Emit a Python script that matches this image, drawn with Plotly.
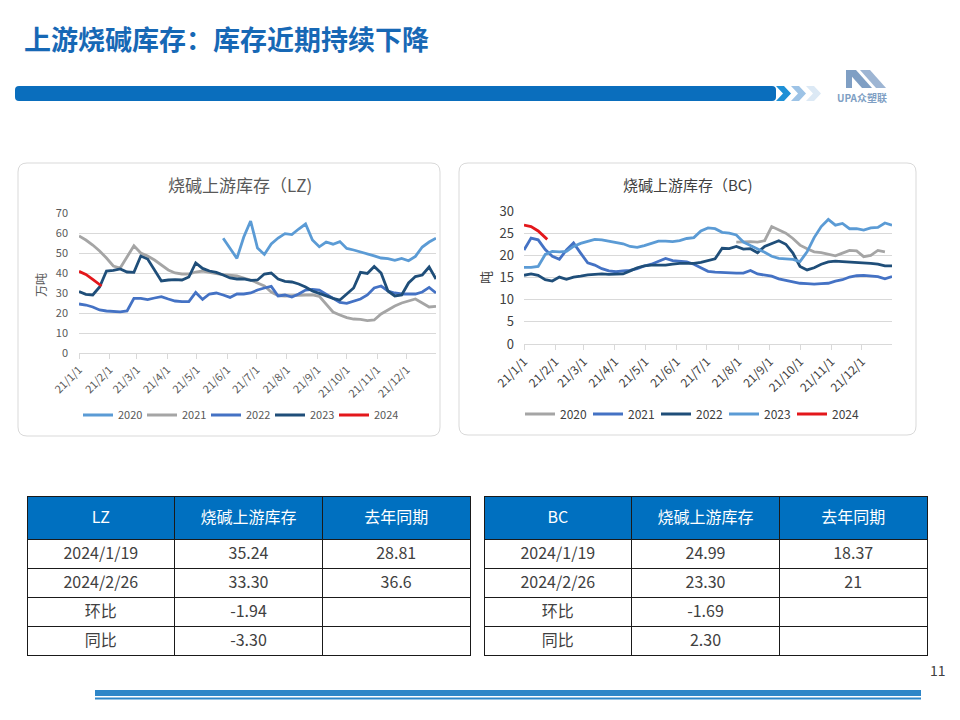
import plotly.graph_objects as go
import pandas as pd

W, H = 960, 720
def px(x):
    return x / W
def py(y):
    return 1 - y / H

FONT = "Noto Sans CJK SC, Noto Sans, sans-serif"

# ---------------- data ----------------
years = ["2020", "2021", "2022", "2023", "2024"]
weeks = pd.date_range("2021-01-01", periods=53, freq="7D")
week_2024 = pd.to_datetime(["2021-01-01", "2021-01-08", "2021-01-15", "2021-01-24"])
month_ticks = pd.date_range("2021-01-01", periods=12, freq="MS")
tick_labels = ["21/1/1", "21/2/1", "21/3/1", "21/4/1", "21/5/1", "21/6/1",
               "21/7/1", "21/8/1", "21/9/1", "21/10/1", "21/11/1", "21/12/1"]

lz_2020 = [None] * 21 + [57.4, 52, 47.3, 58, 66, 52.5, 49.3, 54.5, 57.5, 59.7, 59.2, 62,
                         64.5, 56.5, 53.1, 55.5, 54.4, 55.7, 52.3, 51.5, 50.6, 49.5, 48.6,
                         47.5, 47.2, 46.3, 47.3, 46.1, 48.3, 53, 55.5, 57.4]
lz_2021 = [58.5, 56.5, 54, 51, 47.5, 43.5, 42.5, 48, 53.6, 50, 48.5, 46.5, 44, 41.5, 40,
           39.5, 39.5, 40.5, 41, 40.2, 39.7, 39.2, 38.8, 38.5, 37.5, 36.5, 35, 33.5, 30.5,
           28.7, 28.5, 28.5, 28.8, 29, 29, 28.3, 24.5, 20.5, 19, 17.7, 17, 16.8, 16.2, 16.5,
           19.5, 21.5, 23.5, 25, 26, 27, 25, 23, 23.3]
lz_2022 = [24.5, 24, 23, 21.5, 21, 20.7, 20.6, 21, 27.3, 27.3, 26.7, 27.5, 28.2, 27, 26,
           25.7, 25.7, 30.3, 26.8, 29.5, 30, 29, 27.8, 29.5, 29.5, 30, 31.5, 32.5, 33.3,
           28.5, 29, 28, 29.5, 31.5, 31.8, 31.5, 29.5, 27.5, 25.3, 24.8, 26, 27, 29, 32.5,
           33.5, 31, 30, 29.5, 29.5, 29.5, 30.5, 32.8, 30]
lz_2023 = [30.7, 29.3, 29, 33, 41, 41.3, 42, 40.5, 40.3, 48.5, 47, 41.5, 36, 36.5, 36.7,
           36.5, 38, 45, 42.3, 41, 40.3, 39, 37.5, 37, 37, 36.3, 36.5, 39.5, 40, 37, 35.8,
           35.5, 34.5, 33, 31, 29.8, 28.5, 27.3, 26.5, 29.5, 32.5, 40.3, 39.8, 43.3, 40, 31,
           28.5, 29, 35, 38.2, 39, 43, 37]
lz_2024 = [40.8, 39.3, 36.8, 33.5]

bc_2020 = [None] * 30 + [23, 23.1, 23.1, 23, 23.3, 26.5, 25.7, 25, 23.8, 22.3, 21.5, 20.8,
                         20.6, 20.3, 19.9, 20.5, 21.1, 21, 19.7, 20, 21.1, 20.8]
bc_2021 = [21.2, 23.9, 23.5, 21.3, 19.8, 19.1, 21.2, 22.8, 20.5, 18.3, 17.8, 17, 16.5, 16.3,
           16.5, 16.6, 17, 17.6, 18, 18.6, 19.3, 18.8, 18.6, 18.5, 18, 17.2, 16.4, 16.2, 16.1,
           16, 16, 16, 16.6, 15.8, 15.5, 15.3, 14.7, 14.4, 14, 13.7, 13.6, 13.5, 13.6, 13.7,
           14.2, 14.5, 15.1, 15.4, 15.5, 15.4, 15.2, 14.7, 15.2]
bc_2022 = [15.5, 15.8, 15.5, 14.5, 14.2, 15.1, 14.6, 15.1, 15.3, 15.6, 15.7, 15.8, 15.7, 15.7,
           15.8, 16.5, 17.2, 17.6, 17.8, 17.8, 17.8, 18, 18.2, 18.2, 18.2, 18.4, 18.8, 19.2,
           21.6, 21.5, 22, 21.4, 21.5, 20.6, 22, 22.7, 23.3, 22.5, 20.5, 17.5, 16.7, 17.2, 18,
           18.5, 18.7, 18.6, 18.5, 18.5, 18.4, 18.2, 18, 17.6, 17.6]
bc_2023 = [17.3, 17.3, 17.5, 20.2, 20.9, 20.8, 20.9, 22, 22.7, 23.2, 23.6, 23.5, 23.2, 22.8,
           22.6, 22, 21.8, 22.2, 22.7, 23.2, 23.2, 23.1, 23.3, 23.8, 24, 25.5, 26.2, 26, 25.2,
           25, 24.6, 23, 22.2, 21.5, 20.7, 19.8, 19.3, 19.2, 19.1, 18.6, 20.8, 24, 26.5, 28.1,
           26.8, 27.2, 26, 26, 25.7, 26.2, 26.3, 27.3, 26.8]
bc_2024 = [26.8, 26.5, 25.5, 23.6]

lz_colors = ["#5B9BD5", "#A5A5A5", "#4472C4", "#1F4E79", "#E3171B"]
bc_colors = ["#A5A5A5", "#4472C4", "#1F4E79", "#5B9BD5", "#E3171B"]

table_header_lz = ["LZ", "烧碱上游库存", "去年同期"]
table_header_bc = ["BC", "烧碱上游库存", "去年同期"]
table_dates = ["2024/1/19", "2024/2/26", "环比", "同比"]
lz_stock = ["35.24", "33.30", "-1.94", "-3.30"]
lz_last_year = ["28.81", "36.6", "", ""]
bc_stock = ["24.99", "23.30", "-1.69", "2.30"]
bc_last_year = ["18.37", "21", "", ""]

# ---------------- figure ----------------
fig = go.Figure()

lz_series = [lz_2020, lz_2021, lz_2022, lz_2023, lz_2024]
bc_series = [bc_2020, bc_2021, bc_2022, bc_2023, bc_2024]

for yr, vals, col in zip(years, lz_series, lz_colors):
    xs = week_2024 if yr == "2024" else weeks[:len(vals)]
    fig.add_trace(go.Scatter(x=xs, y=vals, mode="lines", name=yr,
                             line=dict(color=col, width=2.8), xaxis="x", yaxis="y",
                             legend="legend", hoverinfo="skip"))
for yr, vals, col in zip(years, bc_series, bc_colors):
    xs = week_2024 if yr == "2024" else weeks[:len(vals)]
    fig.add_trace(go.Scatter(x=xs, y=vals, mode="lines", name=yr,
                             line=dict(color=col, width=2.8), xaxis="x2", yaxis="y2",
                             legend="legend2", hoverinfo="skip"))

cell_line = dict(color="#1a1a1a", width=1)
def header_label(s):
    # small leading line nudges the header text down to the vertical centre
    return "<br><span style='font-size:16px'>" + s + "</span>"

def add_table(x0, x1, header, c2, c3):
    fig.add_trace(go.Table(
        domain=dict(x=[px(x0), px(x1)], y=[py(662), py(496)]),
        columnwidth=[1, 1, 1],
        header=dict(values=[header_label(h) for h in header], fill_color="#0070C0",
                    line=cell_line, font=dict(family=FONT, size=9, color="white"),
                    align="center", height=43),
        cells=dict(values=[table_dates, c2, c3], fill_color="white", line=cell_line,
                   font=dict(family=FONT, size=16, color="#404040"),
                   align="center", height=29),
    ))

add_table(27, 471, table_header_lz, lz_stock, lz_last_year)
add_table(484, 927, table_header_bc, bc_stock, bc_last_year)

axis_common = dict(showgrid=False, showline=True, linecolor="#D9D9D9", linewidth=1,
                   ticks="outside", ticklen=5, tickcolor="#D9D9D9", tickangle=-45,
                   tickvals=month_ticks, ticktext=tick_labels, type="date",
                   range=["2021-01-01", "2021-12-31"], fixedrange=True, automargin=False)
yaxis_common = dict(showgrid=True, gridcolor="#D9D9D9", gridwidth=1, zeroline=False,
                    showline=False, ticks="", fixedrange=True, automargin=False)

fig.update_layout(
    width=W, height=H, margin=dict(l=0, r=0, t=0, b=0, pad=0, autoexpand=False),
    paper_bgcolor="white", plot_bgcolor="rgba(0,0,0,0)",
    font=dict(family=FONT, color="#595959"),
    xaxis=dict(domain=[px(79), px(436)], anchor="y",
               tickfont=dict(size=11, color="#595959"), **axis_common),
    yaxis=dict(domain=[py(353), py(213)], anchor="x", range=[0, 70], dtick=10,
               ticklabelstandoff=10,
               tickfont=dict(size=11, color="#595959"), **yaxis_common),
    xaxis2=dict(domain=[px(524), px(892)], anchor="y2",
                tickfont=dict(size=12, color="#404040"), **axis_common),
    yaxis2=dict(domain=[py(344), py(211)], anchor="x2", range=[0, 30], dtick=5,
                ticklabelstandoff=9,
                tickfont=dict(size=13, color="#404040"), **yaxis_common),
    legend=dict(orientation="h", x=px(78), y=py(415), xanchor="left", yanchor="middle",
                font=dict(size=11, color="#595959"), bgcolor="rgba(0,0,0,0)",
                entrywidth=19, itemwidth=30),
    legend2=dict(orientation="h", x=px(520), y=py(414), xanchor="left", yanchor="middle",
                 font=dict(size=12, color="#404040"), bgcolor="rgba(0,0,0,0)",
                 entrywidth=23, itemwidth=30),
    showlegend=True,
)

shapes = []
def rounded_rect(x0, y0, x1, y1, r, line_color, fill="white", width=1):
    X = lambda v: px(v)
    Y = lambda v: py(v)
    path = (f"M {X(x0 + r)},{Y(y0)} L {X(x1 - r)},{Y(y0)} Q {X(x1)},{Y(y0)} {X(x1)},{Y(y0 + r)} "
            f"L {X(x1)},{Y(y1 - r)} Q {X(x1)},{Y(y1)} {X(x1 - r)},{Y(y1)} "
            f"L {X(x0 + r)},{Y(y1)} Q {X(x0)},{Y(y1)} {X(x0)},{Y(y1 - r)} "
            f"L {X(x0)},{Y(y0 + r)} Q {X(x0)},{Y(y0)} {X(x0 + r)},{Y(y0)} Z")
    return dict(type="path", xref="paper", yref="paper", path=path,
                line=dict(color=line_color, width=width), fillcolor=fill, layer="below")

def poly(points, color):
    path = "M " + " L ".join(f"{px(a)},{py(b)}" for a, b in points) + " Z"
    return dict(type="path", xref="paper", yref="paper", path=path,
                line=dict(width=0), fillcolor=color, layer="above")

# chart cards
shapes.append(rounded_rect(18, 163, 440, 436, 9, "#D9D9D9"))
shapes.append(rounded_rect(459, 163, 916, 435, 9, "#D9D9D9"))
# header bar
shapes.append(rounded_rect(15, 86, 776, 101, 4, "#0A6EBD", fill="#0A6EBD", width=0))
# chevrons
for x0, col in [(776, "#1E90D6"), (791, "#9DC3E6"), (806, "#DCE9F5")]:
    shapes.append(poly([(x0, 86), (x0 + 8, 86), (x0 + 15, 93.5), (x0 + 8, 101), (x0, 101),
                        (x0 + 7, 93.5)], col))
# logo
shapes.append(poly([(846, 70), (856, 70), (872, 88), (862, 88)], "#7F9FC4"))
shapes.append(poly([(860, 70), (870, 70), (886, 88), (876, 88)], "#9DB5D3"))
shapes.append(poly([(846, 70), (852, 70), (852, 88), (846, 88)], "#7F9FC4"))
# bottom lines
shapes.append(dict(type="rect", xref="paper", yref="paper", x0=px(95), x1=px(921),
                   y0=py(696), y1=py(690), fillcolor="#2E86C8", line=dict(width=0)))
shapes.append(dict(type="rect", xref="paper", yref="paper", x0=px(95), x1=px(921),
                   y0=py(699.5), y1=py(697.5), fillcolor="#2E86C8", line=dict(width=0)))
fig.update_layout(shapes=shapes)

annotations = [
    dict(text="<b>上游烧碱库存：库存近期持续下降</b>", x=px(22), y=py(38), xanchor="left",
         yanchor="middle", font=dict(size=27, color="#1768B5", family=FONT)),
    dict(text="烧碱上游库存（LZ)", x=px(240), y=py(185), xanchor="center", yanchor="middle",
         font=dict(size=17, color="#595959", family=FONT)),
    dict(text="烧碱上游库存（BC)", x=px(688), y=py(185), xanchor="center", yanchor="middle",
         font=dict(size=15, color="#404040", family=FONT)),
    dict(text="万吨", x=px(41), y=py(285), textangle=-90, xanchor="center", yanchor="middle",
         font=dict(size=12, color="#595959", family=FONT)),
    dict(text="吨", x=px(485), y=py(278), textangle=-90, xanchor="center", yanchor="middle",
         font=dict(size=13, color="#404040", family=FONT)),
    dict(text="<b>UPA众塑联</b>", x=px(862), y=py(98), xanchor="center", yanchor="middle",
         font=dict(size=10, color="#7F9FC4", family=FONT)),
    dict(text="11", x=px(938), y=py(670), xanchor="center", yanchor="middle",
         font=dict(size=14, color="#404040", family=FONT)),
]
for a in annotations:
    a.update(xref="paper", yref="paper", showarrow=False)
fig.update_layout(annotations=annotations)

fig.write_html("out.html", config={"displayModeBar": False},
               post_script="document.body.style.margin='0';")
